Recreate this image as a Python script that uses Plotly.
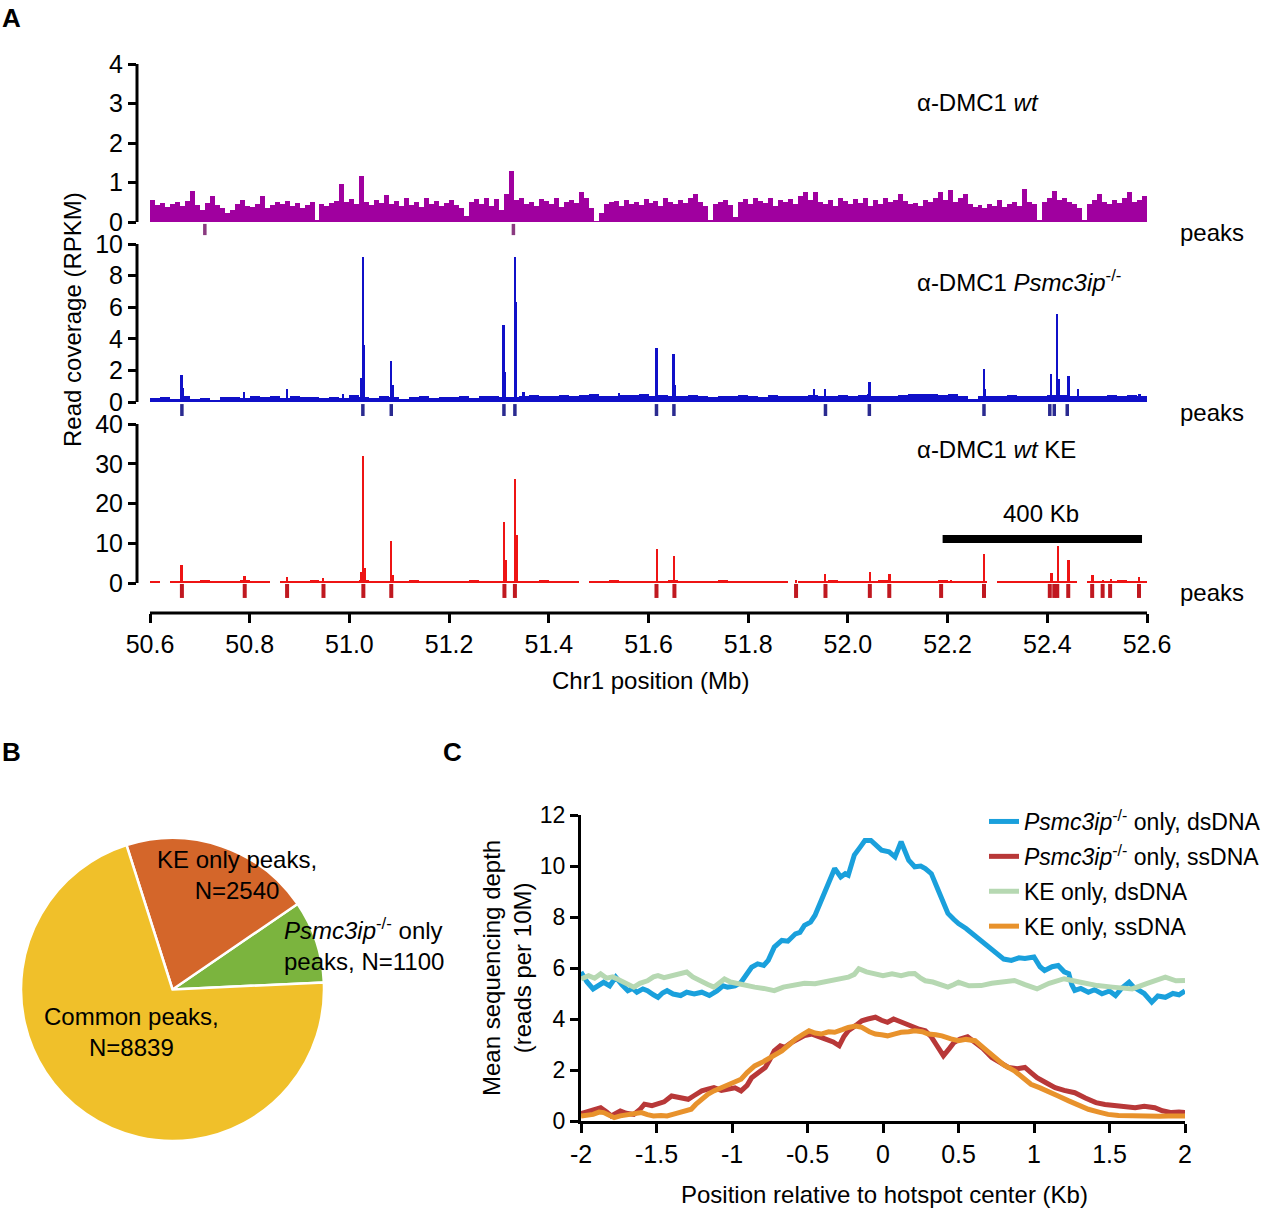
import plotly.graph_objects as go

# ---------------- DATA ----------------
# Panel A: chr1 50.6-52.6 Mb
BIN_START_WT = 50.605   # centre of first 10 kb bin, wt track
BIN_WT = 0.01
wt_signal = [
    0.56, 0.42, 0.48, 0.38, 0.45, 0.50, 0.40, 0.52, 0.79, 0.44,
    0.30, 0.48, 0.66, 0.42, 0.36, 0.24, 0.30, 0.45, 0.55, 0.40,
    0.38, 0.46, 0.66, 0.35, 0.42, 0.50, 0.45, 0.52, 0.40, 0.48,
    0.36, 0.44, 0.50, 0.05, 0.45, 0.40, 0.48, 0.52, 0.96, 0.50,
    0.58, 0.45, 1.16, 0.50, 0.42, 0.55, 0.48, 0.68, 0.45, 0.52,
    0.40, 0.60, 0.44, 0.50, 0.38, 0.62, 0.45, 0.52, 0.40, 0.48,
    0.55, 0.42, 0.36, 0.14, 0.50, 0.58, 0.45, 0.62, 0.40, 0.58,
    0.30, 0.70, 1.28, 0.55, 0.62, 0.45, 0.50, 0.40, 0.58, 0.52,
    0.45, 0.60, 0.38, 0.50, 0.55, 0.48, 0.77, 0.60, 0.35, 0.02,
    0.22, 0.45, 0.50, 0.52, 0.40, 0.55, 0.45, 0.50, 0.42, 0.58,
    0.48, 0.52, 0.40, 0.62, 0.50, 0.45, 0.55, 0.48, 0.60, 0.72,
    0.50, 0.40, 0.05, 0.45, 0.50, 0.55, 0.42, 0.12, 0.50, 0.58,
    0.45, 0.62, 0.52, 0.48, 0.60, 0.40, 0.55, 0.50, 0.58, 0.45,
    0.65, 0.75, 0.55, 0.75, 0.50, 0.45, 0.55, 0.40, 0.62, 0.52,
    0.45, 0.58, 0.48, 0.62, 0.40, 0.55, 0.45, 0.60, 0.50, 0.55,
    0.70, 0.52, 0.45, 0.48, 0.40, 0.55, 0.50, 0.62, 0.75, 0.55,
    0.80, 0.50, 0.62, 0.72, 0.45, 0.38, 0.42, 0.35, 0.45, 0.40,
    0.55, 0.38, 0.45, 0.50, 0.40, 0.83, 0.50, 0.45, 0.05, 0.50,
    0.62, 0.78, 0.55, 0.60, 0.50, 0.45, 0.35, 0.05, 0.45, 0.55,
    0.72, 0.50, 0.45, 0.55, 0.48, 0.60, 0.75, 0.50, 0.55, 0.65,
]
wt_peaks = [50.71, 51.329]

BIN_START_BG = 50.61    # centre of first 20 kb background bin
BIN_BG = 0.02
psmc_background = [
    0.25, 0.30, 0.22, 0.35, 0.18, 0.28, 0.12, 0.30, 0.32, 0.25,
    0.38, 0.30, 0.35, 0.28, 0.40, 0.30, 0.33, 0.25, 0.30, 0.28,
    0.42, 0.30, 0.28, 0.35, 0.30, 0.22, 0.30, 0.35, 0.25, 0.32,
    0.30, 0.35, 0.28, 0.38, 0.40, 0.32, 0.30, 0.35, 0.42, 0.38,
    0.40, 0.45, 0.35, 0.42, 0.48, 0.40, 0.38, 0.45, 0.42, 0.50,
    0.38, 0.45, 0.40, 0.35, 0.42, 0.38, 0.30, 0.40, 0.35, 0.42,
    0.38, 0.30, 0.42, 0.35, 0.40, 0.38, 0.45, 0.40, 0.35, 0.42,
    0.38, 0.45, 0.40, 0.35, 0.38, 0.45, 0.48, 0.50, 0.52, 0.45,
    0.48, 0.40, 0.20, 0.35, 0.40, 0.38, 0.42, 0.35, 0.40, 0.38,
    0.42, 0.45, 0.35, 0.40, 0.38, 0.35, 0.42, 0.38, 0.45, 0.40,
]
psmc_spike_pos = [50.664, 50.667, 50.789, 50.874, 50.988, 51.025, 51.027, 51.030,
                  51.084, 51.087, 51.310, 51.313, 51.332, 51.335, 51.350, 51.540,
                  51.617, 51.651, 51.654, 51.932, 51.955, 52.040, 52.044, 52.273,
                  52.276, 52.408, 52.420, 52.423, 52.443, 52.462, 52.585]
psmc_spike_val = [1.73, 0.90, 0.61, 0.82, 0.53, 1.52, 9.16, 3.63,
                  2.62, 1.10, 4.85, 1.88, 9.16, 6.31, 0.61, 0.59,
                  3.42, 3.06, 1.05, 0.80, 0.80, 0.50, 1.27, 2.07,
                  0.84, 1.79, 5.59, 1.48, 1.65, 0.80, 0.53]
psmc_peaks = [50.664, 51.027, 51.084, 51.310, 51.332, 51.616, 51.651, 51.955,
              52.043, 52.273, 52.405, 52.414, 52.440]

ke_background = [
    0.6, 0.0, 0.5, 0.6, 0.5, 0.7, 0.6, 0.5, 0.6, 0.7,
    0.5, 0.6, 0.0, 0.6, 0.5, 0.6, 0.7, 0.5, 0.6, 0.5,
    0.6, 0.7, 0.5, 0.6, 0.5, 0.6, 0.7, 0.6, 0.5, 0.6,
    0.5, 0.6, 0.7, 0.5, 0.6, 0.5, 0.6, 0.5, 0.6, 0.7,
    0.6, 0.5, 0.6, 0.0, 0.5, 0.6, 0.7, 0.6, 0.5, 0.6,
    0.5, 0.6, 0.7, 0.6, 0.5, 0.6, 0.5, 0.7, 0.6, 0.5,
    0.6, 0.5, 0.6, 0.5, 0.0, 0.6, 0.5, 0.6, 0.7, 0.5,
    0.6, 0.5, 0.6, 0.7, 0.6, 0.5, 0.6, 0.5, 0.6, 0.7,
    0.5, 0.6, 0.5, 0.6, 0.0, 0.5, 0.6, 0.5, 0.6, 0.5,
    0.6, 0.5, 0.6, 0.0, 0.6, 0.5, 0.6, 0.7, 0.5, 0.6,
]
ke_spike_pos = [50.664, 50.790, 50.875, 50.948, 51.025, 51.028, 51.031, 51.084,
                51.087, 51.311, 51.314, 51.333, 51.336, 51.618, 51.652, 51.896,
                51.955, 52.045, 52.084, 52.187, 52.206, 52.273, 52.409, 52.422,
                52.443, 52.491, 52.512, 52.527, 52.584]
ke_spike_val = [4.5, 1.84, 1.6, 1.34, 2.7, 31.9, 3.9, 10.5,
                2.1, 15.3, 5.9, 26.2, 12.1, 8.6, 6.7, 0.84,
                2.2, 2.7, 2.2, 0.7, 0.84, 7.4, 2.5, 9.2,
                5.7, 1.93, 0.84, 1.1, 1.5]
ke_peaks = [50.664, 50.790, 50.875, 50.948, 51.028, 51.084, 51.311, 51.332,
            51.616, 51.652, 51.896, 51.955, 52.044, 52.083, 52.187, 52.273,
            52.405, 52.414, 52.420, 52.442, 52.490, 52.511, 52.526, 52.584]

x_ticks_A = [50.6, 50.8, 51.0, 51.2, 51.4, 51.6, 51.8, 52.0, 52.2, 52.4, 52.6]
x_ticktext_A = ["50.6", "50.8", "51.0", "51.2", "51.4", "51.6", "51.8", "52.0", "52.2", "52.4", "52.6"]
scale_bar_kb = (52.19, 52.59)

# Panel B: pie
pie_labels = ["Psmc3ip-/- only peaks", "KE only peaks", "Common peaks"]
pie_values = [1100, 2540, 8839]

# Panel C: profiles around hotspot centre (Kb)
psmc_ds_x = [-2.00, -1.96, -1.92, -1.88, -1.85, -1.81, -1.77, -1.73, -1.69, -1.66, -1.63, -1.59,
             -1.56, -1.52, -1.49, -1.46, -1.43, -1.39, -1.34, -1.30, -1.25, -1.20, -1.15, -1.10,
             -1.06, -1.03, -0.98, -0.94, -0.90, -0.87, -0.83, -0.79, -0.76, -0.72, -0.67, -0.63,
             -0.58, -0.55, -0.52, -0.48, -0.45, -0.41, -0.38, -0.35, -0.32, -0.28, -0.25, -0.23,
             -0.19, -0.15, -0.12, -0.08, -0.05, -0.01, 0.04, 0.08, 0.12, 0.15, 0.17, 0.21,
             0.25, 0.28, 0.32, 0.365, 0.40, 0.43, 0.47, 0.50, 0.55, 0.59, 0.63, 0.675,
             0.72, 0.76, 0.80, 0.85, 0.90, 0.94, 1.00, 1.04, 1.07, 1.12, 1.16, 1.20,
             1.23, 1.25, 1.27, 1.31, 1.36, 1.40, 1.45, 1.50, 1.54, 1.58, 1.63, 1.66,
             1.69, 1.73, 1.78, 1.82, 1.87, 1.92, 1.96, 2.00]
psmc_ds_y = [5.84, 5.45, 5.18, 5.35, 5.44, 5.30, 5.64, 5.35, 5.11, 5.20, 5.05, 5.18,
             5.11, 4.95, 4.85, 5.02, 5.11, 4.98, 4.92, 5.05, 4.98, 5.05, 4.92, 5.10,
             5.30, 5.25, 5.30, 5.44, 5.75, 6.03, 6.16, 6.10, 6.30, 6.82, 7.08, 7.05,
             7.34, 7.40, 7.67, 7.80, 8.07, 8.60, 9.05, 9.50, 9.90, 9.57, 9.70, 9.64,
             10.43, 10.75, 11.00, 11.00, 10.85, 10.62, 10.56, 10.36, 10.95, 10.55, 10.23, 9.97,
             10.00, 9.90, 9.70, 9.06, 8.60, 8.14, 7.90, 7.74, 7.55, 7.35, 7.20, 6.96,
             6.75, 6.50, 6.35, 6.30, 6.40, 6.37, 6.43, 6.05, 5.90, 6.05, 6.10, 5.85,
             5.78, 5.35, 5.12, 5.20, 5.05, 5.15, 4.99, 5.10, 4.92, 5.20, 5.44, 5.25,
             5.12, 5.00, 4.66, 4.90, 4.85, 5.00, 4.95, 5.10]

psmc_ss_x = [-2.00, -1.94, -1.87, -1.83, -1.80, -1.77, -1.74, -1.70, -1.65, -1.61, -1.58, -1.53,
             -1.49, -1.45, -1.40, -1.35, -1.29, -1.25, -1.20, -1.16, -1.12, -1.07, -1.03, -0.98,
             -0.94, -0.90, -0.87, -0.82, -0.78, -0.75, -0.72, -0.68, -0.65, -0.60, -0.56, -0.52,
             -0.47, -0.43, -0.38, -0.33, -0.29, -0.26, -0.23, -0.18, -0.14, -0.10, -0.05, -0.01,
             0.03, 0.07, 0.10, 0.15, 0.19, 0.24, 0.28, 0.32, 0.35, 0.38, 0.40, 0.44,
             0.47, 0.51, 0.56, 0.61, 0.66, 0.72, 0.77, 0.83, 0.89, 0.94, 0.98, 1.02,
             1.08, 1.14, 1.20, 1.27, 1.34, 1.41, 1.47, 1.54, 1.60, 1.67, 1.73, 1.80,
             1.85, 1.91, 1.96, 2.00]
psmc_ss_y = [0.29, 0.40, 0.52, 0.35, 0.20, 0.30, 0.39, 0.30, 0.26, 0.45, 0.66, 0.60,
             0.66, 0.75, 0.98, 0.90, 0.85, 1.00, 1.18, 1.25, 1.31, 1.20, 1.25, 1.30,
             1.18, 1.40, 1.70, 1.95, 2.10, 2.40, 2.75, 2.95, 2.89, 3.10, 3.21, 3.35,
             3.41, 3.30, 3.21, 3.10, 2.95, 3.30, 3.54, 3.75, 3.93, 4.00, 4.07, 3.95,
             3.87, 4.00, 3.93, 3.80, 3.67, 3.60, 3.54, 3.30, 3.02, 2.75, 2.56, 2.85,
             3.08, 3.21, 3.30, 3.08, 2.85, 2.49, 2.30, 2.10, 2.05, 2.10, 1.90, 1.70,
             1.50, 1.31, 1.20, 1.11, 0.90, 0.72, 0.65, 0.59, 0.55, 0.52, 0.58, 0.52,
             0.40, 0.33, 0.35, 0.33]

ke_ds_x = [-2.00, -1.95, -1.91, -1.87, -1.83, -1.79, -1.76, -1.72, -1.68, -1.65, -1.61, -1.56,
           -1.52, -1.49, -1.45, -1.40, -1.35, -1.30, -1.26, -1.20, -1.16, -1.12, -1.08, -1.05,
           -1.01, -0.96, -0.91, -0.85, -0.79, -0.72, -0.66, -0.58, -0.52, -0.45, -0.39, -0.32,
           -0.27, -0.23, -0.19, -0.16, -0.11, -0.06, 0.00, 0.06, 0.12, 0.17, 0.21, 0.25,
           0.28, 0.33, 0.39, 0.43, 0.47, 0.50, 0.57, 0.65, 0.72, 0.80, 0.87, 0.94,
           1.02, 1.10, 1.20, 1.30, 1.42, 1.52, 1.65, 1.75, 1.87, 1.94, 2.00]
ke_ds_y = [5.57, 5.70, 5.60, 5.77, 5.60, 5.65, 5.57, 5.45, 5.35, 5.25, 5.40, 5.50,
           5.65, 5.70, 5.62, 5.70, 5.75, 5.84, 5.65, 5.44, 5.35, 5.25, 5.45, 5.57,
           5.45, 5.38, 5.30, 5.25, 5.20, 5.11, 5.25, 5.31, 5.40, 5.38, 5.45, 5.50,
           5.58, 5.64, 5.75, 5.97, 5.85, 5.77, 5.70, 5.77, 5.70, 5.77, 5.78, 5.60,
           5.50, 5.45, 5.31, 5.25, 5.35, 5.44, 5.30, 5.31, 5.40, 5.45, 5.51, 5.35,
           5.18, 5.40, 5.58, 5.45, 5.31, 5.25, 5.18, 5.40, 5.64, 5.50, 5.51]

ke_ss_x = [-2.00, -1.96, -1.92, -1.88, -1.85, -1.81, -1.78, -1.74, -1.69, -1.65, -1.60, -1.56,
           -1.52, -1.47, -1.43, -1.38, -1.32, -1.27, -1.24, -1.20, -1.16, -1.12, -1.07, -1.03,
           -0.98, -0.94, -0.90, -0.85, -0.80, -0.76, -0.71, -0.67, -0.62, -0.58, -0.53, -0.49,
           -0.45, -0.41, -0.36, -0.32, -0.27, -0.23, -0.18, -0.14, -0.09, -0.05, -0.01, 0.03,
           0.08, 0.12, 0.17, 0.21, 0.26, 0.30, 0.35, 0.39, 0.45, 0.50, 0.55, 0.61,
           0.67, 0.74, 0.80, 0.87, 0.93, 0.98, 1.04, 1.09, 1.16, 1.23, 1.30, 1.36,
           1.43, 1.49, 1.56, 1.63, 1.70, 1.76, 1.83, 1.89, 1.95, 2.00]
ke_ss_y = [0.20, 0.22, 0.26, 0.35, 0.33, 0.22, 0.13, 0.20, 0.26, 0.30, 0.33, 0.25,
           0.20, 0.22, 0.20, 0.28, 0.39, 0.46, 0.65, 0.85, 1.05, 1.18, 1.30, 1.44,
           1.55, 1.64, 1.90, 2.16, 2.30, 2.43, 2.60, 2.75, 3.00, 3.21, 3.40, 3.54,
           3.45, 3.41, 3.50, 3.48, 3.58, 3.67, 3.72, 3.67, 3.50, 3.41, 3.38, 3.34,
           3.42, 3.48, 3.50, 3.54, 3.50, 3.41, 3.38, 3.34, 3.22, 3.15, 3.20, 3.15,
           2.85, 2.49, 2.20, 1.97, 1.70, 1.44, 1.30, 1.18, 0.98, 0.79, 0.60, 0.46,
           0.35, 0.26, 0.22, 0.20, 0.18, 0.20, 0.19, 0.20, 0.18, 0.20]

x_ticks_C = [-2, -1.5, -1, -0.5, 0, 0.5, 1, 1.5, 2]
x_ticktext_C = ["-2", "-1.5", "-1", "-0.5", "0", "0.5", "1", "1.5", "2"]
y_ticks_C = [0, 2, 4, 6, 8, 10, 12]

# ---------------- STYLE ----------------
W, H = 1280, 1209
FONT = "Liberation Sans, Arial, Helvetica, sans-serif"
FS = 24
PURPLE, PURPLE_PK = "#a0009f", "#8a3a80"
BLUE, BLUE_PK = "#1010c8", "#2a2a90"
RED, RED_PK = "#ee1414", "#c01820"
C_BLUE, C_RED, C_GREEN, C_ORANGE = "#1aa0dc", "#b83838", "#b6d8b2", "#e8922c"


def py(p):
    return 1 - p / H


def pxx(p):
    return p / W


fig = go.Figure()


def bins(start, step, vals):
    return [round(start + step * i, 4) for i in range(len(vals))]


# Panel A tracks
fig.add_trace(go.Bar(x=bins(BIN_START_WT, BIN_WT, wt_signal), y=wt_signal, width=BIN_WT,
                     marker=dict(color=PURPLE, line=dict(width=0)), xaxis="x", yaxis="y",
                     showlegend=False, hoverinfo="skip"))
fig.add_trace(go.Scatter(x=wt_peaks, y=[-0.19] * len(wt_peaks), mode="markers",
                         marker=dict(symbol="line-ns", size=8, line=dict(width=3.5, color=PURPLE_PK)),
                         xaxis="x", yaxis="y", showlegend=False, hoverinfo="skip"))

fig.add_trace(go.Bar(x=bins(BIN_START_BG, BIN_BG, psmc_background), y=psmc_background, width=BIN_BG,
                     marker=dict(color=BLUE, line=dict(width=0)), xaxis="x", yaxis="y2",
                     showlegend=False, hoverinfo="skip"))
fig.add_trace(go.Bar(x=psmc_spike_pos, y=psmc_spike_val, width=0.004,
                     marker=dict(color=BLUE, line=dict(width=0)), xaxis="x", yaxis="y2",
                     showlegend=False, hoverinfo="skip"))
fig.add_trace(go.Scatter(x=psmc_peaks, y=[-0.53] * len(psmc_peaks), mode="markers",
                         marker=dict(symbol="line-ns", size=9, line=dict(width=3.5, color=BLUE_PK)),
                         xaxis="x", yaxis="y2", showlegend=False, hoverinfo="skip"))

fig.add_trace(go.Bar(x=bins(BIN_START_BG, BIN_BG, ke_background), y=ke_background, width=BIN_BG,
                     marker=dict(color=RED, line=dict(width=0)), xaxis="x", yaxis="y3",
                     showlegend=False, hoverinfo="skip"))
fig.add_trace(go.Bar(x=ke_spike_pos, y=ke_spike_val, width=0.004,
                     marker=dict(color=RED, line=dict(width=0)), xaxis="x", yaxis="y3",
                     showlegend=False, hoverinfo="skip"))
fig.add_trace(go.Scatter(x=ke_peaks, y=[-2.0] * len(ke_peaks), mode="markers",
                         marker=dict(symbol="line-ns", size=10, line=dict(width=4, color=RED_PK)),
                         xaxis="x", yaxis="y3", showlegend=False, hoverinfo="skip"))

# Panel B pie
fig.add_trace(go.Pie(values=pie_values, labels=pie_labels, sort=False, direction="counterclockwise",
                     rotation=55.6, textinfo="none", hoverinfo="skip", showlegend=False,
                     marker=dict(colors=["#7bb43e", "#d4662a", "#f0c02a"], line=dict(color="white", width=2.5)),
                     domain=dict(x=[pxx(21), pxx(324)], y=[py(1141), py(838)])))

# Panel C lines
SUP = "<sup>-/-</sup>"
for xs, ys, col, name in [
    (psmc_ds_x, psmc_ds_y, C_BLUE, "<i>Psmc3ip</i>" + SUP + " only, dsDNA"),
    (psmc_ss_x, psmc_ss_y, C_RED, "<i>Psmc3ip</i>" + SUP + " only, ssDNA"),
    (ke_ds_x, ke_ds_y, C_GREEN, "KE only, dsDNA"),
    (ke_ss_x, ke_ss_y, C_ORANGE, "KE only, ssDNA"),
]:
    fig.add_trace(go.Scatter(x=xs, y=ys, mode="lines", name=name, legendgroup=name,
                             line=dict(color=col, width=5), xaxis="x2", yaxis="y4",
                             hoverinfo="skip"))


def axis_style(size, ticklen=8):
    return dict(showgrid=False, zeroline=False, ticks="outside", ticklen=ticklen, tickwidth=3,
                tickcolor="black", automargin=False,
                tickfont=dict(family=FONT, size=size, color="black"))


x0A = 50.6 - 13 / 498.5
x1A = 52.6 + 3 / 498.5
fig.update_layout(
    width=W, height=H, margin=dict(l=0, r=0, t=0, b=0, pad=0, autoexpand=False),
    paper_bgcolor="white", plot_bgcolor="white",
    barmode="overlay", bargap=0,
    font=dict(family=FONT, size=FS, color="black"),
    xaxis=dict(domain=[pxx(137), pxx(1150)], range=[x0A, x1A], anchor="y3",
               tickvals=x_ticks_A, ticktext=x_ticktext_A, showline=False, **axis_style(25, 9)),
    yaxis=dict(domain=[py(236), py(64)], range=[-(236 - 222) / 39.5, 4], anchor="x",
               tickvals=[0, 1, 2, 3, 4], showline=False, **axis_style(25)),
    yaxis2=dict(domain=[py(416), py(244)], range=[-(416 - 402) / 15.8, 10], anchor="x",
                tickvals=[0, 2, 4, 6, 8, 10], showline=False, **axis_style(25)),
    yaxis3=dict(domain=[py(613), py(424)], range=[-(613 - 583) / 3.975, 40], anchor="x",
                tickvals=[0, 10, 20, 30, 40], showline=False, **axis_style(25)),
    xaxis2=dict(domain=[pxx(581), pxx(1185)], range=[-2, 2], anchor="y4",
                tickvals=x_ticks_C, ticktext=x_ticktext_C, showline=True, linewidth=3,
                linecolor="black", **axis_style(25, 9)),
    yaxis4=dict(domain=[py(1121), py(815)], range=[0, 12], anchor="x2",
                tickvals=y_ticks_C, showline=True, linewidth=3, linecolor="black", **axis_style(23)),
    legend=dict(x=pxx(984), y=py(800), xanchor="left", yanchor="top",
                font=dict(family=FONT, size=23, color="black"), bgcolor="rgba(0,0,0,0)",
                tracegroupgap=2, itemwidth=30),
)

shapes = []
# y-axis spines for panel A
for yref, top in [("y", 4), ("y2", 10), ("y3", 40)]:
    shapes.append(dict(type="line", xref="paper", yref=yref, x0=pxx(137), x1=pxx(137), y0=0, y1=top,
                       line=dict(color="black", width=3)))
# x-axis line panel A
shapes.append(dict(type="line", xref="x", yref="paper", x0=x_ticks_A[0], x1=x_ticks_A[-1],
                   y0=py(613), y1=py(613), line=dict(color="black", width=3)))
# scale bar
shapes.append(dict(type="line", xref="x", yref="y3", x0=scale_bar_kb[0], x1=scale_bar_kb[1],
                   y0=11.07, y1=11.07, line=dict(color="black", width=8)))
fig.update_layout(shapes=shapes)

ann = []


def A(text, x, y, xanchor="left", yanchor="middle", size=FS, angle=0, align="left"):
    ann.append(dict(text=text, x=pxx(x), y=py(y), xref="paper", yref="paper", xanchor=xanchor,
                    yanchor=yanchor, showarrow=False, textangle=angle, align=align,
                    font=dict(family=FONT, size=size, color="black")))


A("<b>A</b>", 0, 18, size=26)
A("<b>B</b>", 0, 752, size=26)
A("<b>C</b>", 441, 752, size=26)
A("α-DMC1 <i>wt</i>", 915, 102)
A("α-DMC1 <i>Psmc3ip</i>" + SUP, 915, 281)
A("α-DMC1 <i>wt</i> KE", 915, 449)
for yy in (232, 412, 592):
    A("peaks", 1178, yy)
A("400 Kb", 1041, 513, xanchor="center")
A("Read coverage (RPKM)", 72, 320, xanchor="center", angle=-90)
A("Chr1 position (Mb)", 650, 680, xanchor="center")
A("KE only peaks,<br>N=2540", 237, 875, xanchor="center", align="center")
A("<i>Psmc3ip</i>" + SUP + " only<br>peaks, N=1100", 282, 944, xanchor="left", align="left")
A("Common peaks,<br>N=8839", 131, 1032, xanchor="center", align="center")
A("Mean sequencing depth<br>(reads per 10M)", 507, 968, xanchor="center", angle=-90, align="center")
A("Position relative to hotspot center (Kb)", 884, 1194, xanchor="center")
fig.update_layout(annotations=ann)

fig.write_html("out.html")
